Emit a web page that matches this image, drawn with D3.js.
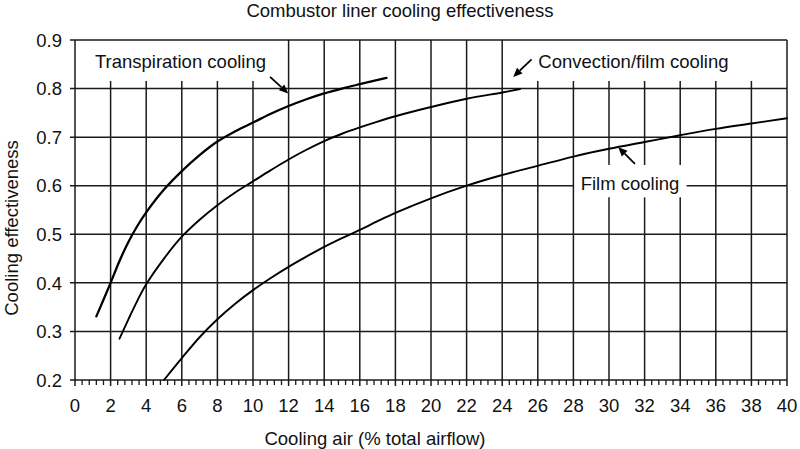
<!DOCTYPE html>
<html>
<head>
<meta charset="utf-8">
<script src="https://cdn.jsdelivr.net/npm/d3@7/dist/d3.min.js"></script>
<style>
  html, body { margin: 0; padding: 0; background: #fff; }
  svg { display: block; }
  text { font-family: "Liberation Sans", Arial, sans-serif; fill: #111; }
</style>
</head>
<body>
<svg id="chart" width="800" height="449"></svg>
<script>
// ---- Data ----
const title = "Combustor liner cooling effectiveness";
const xTitle = "Cooling air (% total airflow)";
const yTitle = "Cooling effectiveness";
const xTicks = [0, 2, 4, 6, 8, 10, 12, 14, 16, 18, 20, 22, 24, 26, 28, 30, 32, 34, 36, 38, 40];
const yTicks = [0.2, 0.3, 0.4, 0.5, 0.6, 0.7, 0.8, 0.9];

const transpiration = [
  [1.2, 0.331], [2, 0.40], [2.5, 0.445], [3, 0.484], [3.5, 0.517], [4, 0.545],
  [5, 0.592], [6, 0.630], [7, 0.663], [8, 0.691], [9, 0.712], [10, 0.730],
  [11, 0.748], [12, 0.764], [13, 0.778], [14, 0.790], [15, 0.800], [16, 0.809], [17.5, 0.822]
];
const convectionFilm = [
  [2.5, 0.285], [3, 0.325], [3.5, 0.363], [4, 0.397], [5, 0.450], [6, 0.495],
  [7, 0.530], [8, 0.560], [9, 0.586], [10, 0.609], [11, 0.632], [12, 0.654],
  [13, 0.674], [14, 0.692], [15, 0.707], [16, 0.720], [17, 0.732], [18, 0.743],
  [20, 0.762], [22, 0.779], [24, 0.792], [25, 0.799]
];
const filmCooling = [
  [5, 0.2], [6, 0.245], [7, 0.288], [8, 0.325], [9, 0.357], [10, 0.385], [11, 0.410],
  [12, 0.433], [13, 0.454], [14, 0.474], [15, 0.492], [16, 0.509], [17, 0.527],
  [18, 0.544], [20, 0.574], [22, 0.600], [24, 0.622], [26, 0.641], [28, 0.660],
  [30, 0.676], [32, 0.690], [34, 0.704], [36, 0.717], [38, 0.728], [40, 0.739]
];
const seriesLabels = ["Transpiration cooling", "Convection/film cooling", "Film cooling"];

// ---- Layout ----
const x = d3.scaleLinear().domain([0, 40]).range([75, 787]);
const y = d3.scaleLinear().domain([0.2, 0.9]).range([380, 40]);
const svg = d3.select("#chart");
const gridColor = "#1a1a1a";

const g = svg.append("g");

// vertical gridlines (some stop short below the label areas)
const shortTop = 0.8156;
function vSegments(v) {
  let top = 0.9;
  if ((v >= 2 && v <= 10) || (v >= 26 && v <= 38)) top = shortTop;
  if (v === 30 || v === 32 || v === 34) return [[0.2, 0.576], [0.6427, top]];
  return [[0.2, top]];
}
xTicks.forEach(v => {
  vSegments(v).forEach(([a, b]) => {
    g.append("line")
      .attr("x1", x(v)).attr("x2", x(v))
      .attr("y1", y(a) + (a === 0.2 ? 6 : 0)).attr("y2", y(b))
      .attr("stroke", gridColor).attr("stroke-width", 1.5);
  });
});

// horizontal gridlines (0.6 has a gap for the "Film cooling" label)
yTicks.forEach(v => {
  const segs = (v === 0.6) ? [[0, 28], [34.36, 40]] : [[0, 40]];
  segs.forEach(([a, b]) => {
    g.append("line")
      .attr("x1", x(a) - (a === 0 ? 5 : 0)).attr("x2", x(b))
      .attr("y1", y(v)).attr("y2", y(v))
      .attr("stroke", gridColor).attr("stroke-width", 1.5);
  });
});

// minor ticks on x axis
const minor = d3.range(0, 40.001, 0.4).filter(v => Math.abs(v / 2 - Math.round(v / 2)) > 1e-6);
g.selectAll(".minor").data(minor).enter().append("line")
  .attr("x1", d => x(d)).attr("x2", d => x(d))
  .attr("y1", y(0.2)).attr("y2", y(0.2) + 5)
  .attr("stroke", gridColor).attr("stroke-width", 1.3);

// x tick labels
g.selectAll(".xt").data(xTicks).enter().append("text")
  .attr("x", d => x(d)).attr("y", 411.5)
  .attr("text-anchor", "middle").attr("font-size", 18.5)
  .text(d => d);

// y tick labels
g.selectAll(".yt").data(yTicks).enter().append("text")
  .attr("x", 62).attr("y", d => y(d) + 6.7)
  .attr("text-anchor", "end").attr("font-size", 18.5)
  .text(d => d.toFixed(1));

// titles
svg.append("text").attr("x", 400).attr("y", 17).attr("text-anchor", "middle")
  .attr("font-size", 18.5).text(title);
svg.append("text").attr("x", 375).attr("y", 445).attr("text-anchor", "middle")
  .attr("font-size", 18.5).text(xTitle);
svg.append("text").attr("transform", "translate(18,228) rotate(-90)")
  .attr("text-anchor", "middle").attr("font-size", 18.5).text(yTitle);

// curves
const line = d3.line().x(d => x(d[0])).y(d => y(d[1])).curve(d3.curveCatmullRom.alpha(0.5));
[[transpiration, 2.3], [convectionFilm, 1.9], [filmCooling, 1.9]].forEach(([data, w]) => {
  svg.append("path").attr("d", line(data))
    .attr("fill", "none").attr("stroke", "#000").attr("stroke-width", w)
    .attr("stroke-linecap", "round");
});

// annotations: label position and arrow (from -> to) in data units
const annotations = [
  { text: seriesLabels[0], lx: 1.12, ly: 0.843, from: [10.96, 0.824], to: [11.98, 0.790] },
  { text: seriesLabels[1], lx: 26.03, ly: 0.842, from: [25.65, 0.860], to: [24.62, 0.824] },
  { text: seriesLabels[2], lx: 28.41, ly: 0.592, from: [31.46, 0.645], to: [30.52, 0.679] }
];
annotations.forEach(a => {
  svg.append("text").attr("x", x(a.lx)).attr("y", y(a.ly))
    .attr("font-size", 18.5).text(a.text);
  const x1 = x(a.from[0]), y1 = y(a.from[1]), x2 = x(a.to[0]), y2 = y(a.to[1]);
  const ang = Math.atan2(y2 - y1, x2 - x1);
  const L = 9, Wd = 4;
  const bx = x2 - L * Math.cos(ang), by = y2 - L * Math.sin(ang);
  svg.append("line").attr("x1", x1).attr("y1", y1).attr("x2", bx).attr("y2", by)
    .attr("stroke", "#000").attr("stroke-width", 1.8);
  const px = -Math.sin(ang) * Wd, py = Math.cos(ang) * Wd;
  svg.append("path")
    .attr("d", `M${x2},${y2}L${bx + px},${by + py}L${bx - px},${by - py}Z`)
    .attr("fill", "#000");
});
</script>
</body>
</html>
